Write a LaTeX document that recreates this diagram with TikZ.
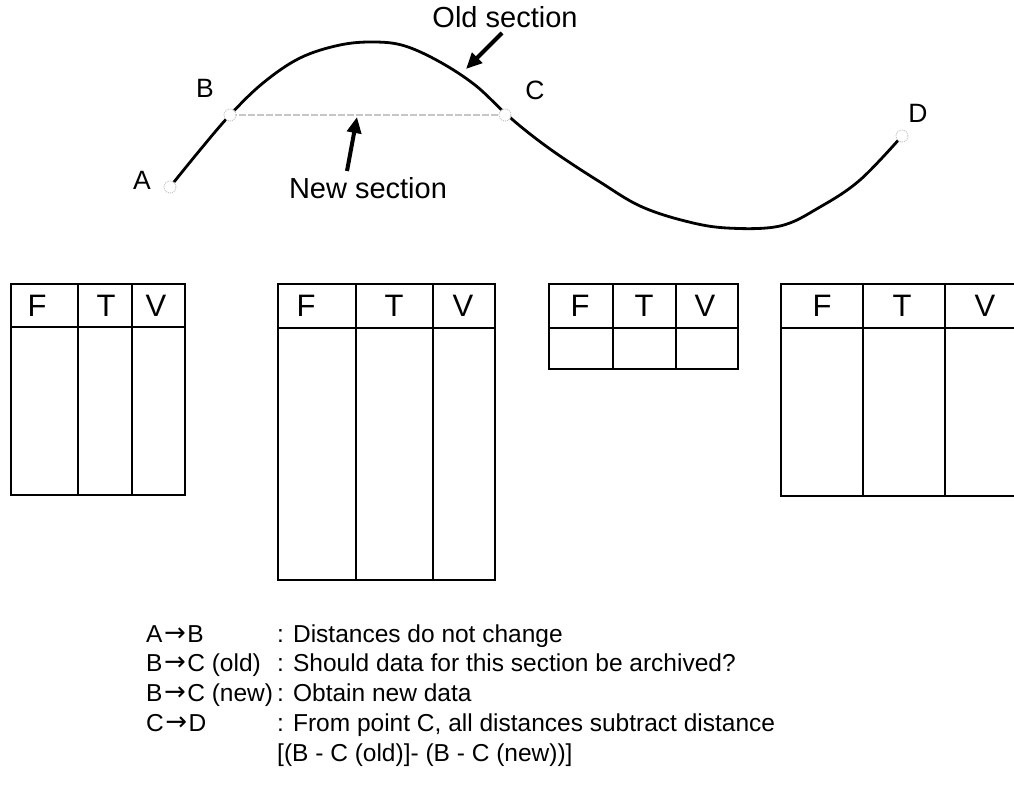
\documentclass[tikz,border=0pt]{standalone}
\usepackage{fontspec}
\setmainfont{Liberation Sans}
\newfontfamily\arrfont{DejaVu Sans}
\usetikzlibrary{arrows.meta}
\newcommand\legarrow{\hspace{1.5pt}{\arrfont\fontsize{26}{28}\selectfont\raisebox{0.5pt}{→}}\hspace{1.5pt}}
\begin{document}
\begin{tikzpicture}[x=1pt,y=-1pt,
  curve/.style={line width=2.8pt, line cap=round},
  pt/.style={circle, draw=gray!45, densely dotted, line width=1pt, fill=white, minimum size=12pt, inner sep=0pt},
  lbl/.style={font=\fontsize{26.5}{30}\selectfont, inner sep=0pt},
  sec/.style={font=\fontsize{29}{34}\selectfont, inner sep=0pt},
  hdr/.style={font=\fontsize{31}{36}\selectfont, inner sep=0pt},
  leg/.style={font=\fontsize{24.5}{30}\selectfont, inner sep=0pt, anchor=base west},
  tab/.style={line width=2.6pt},
  callout/.style={line width=4pt, -{Triangle[length=16pt,width=14pt]}},
  newsec/.style={gray!45, line width=2.2pt, dash pattern=on 7pt off 2pt}
]
\useasboundingbox (0,0) rectangle (1014,803);
\clip (0,0) rectangle (1014,803);

% route curve
\draw[curve] plot[smooth, tension=0.6] coordinates {
 (170,187) (200,150) (230,115) (263,83) (300,58) (340,45) (375,42) (405,46)
 (440,62) (475,85) (505,113) (530,134) (560,156) (600,182) (640,206)
 (685,221) (727,228) (780,226) (820,207) (860,180) (902,136)};

% new section
\draw[newsec] (230,115) -- (505,115);

% points
\node[pt] (A) at (170,187) {};
\node[pt] (B) at (230,115) {};
\node[pt] (C) at (505,115) {};
\node[pt] (D) at (902,136) {};
\node[lbl] (la) at (142,180) {A};
\node[lbl] (lb) at (205,88) {B};
\node[lbl] (lc) at (535,90) {C};
\node[lbl] (ld) at (918,113) {D};

% callouts
\node[sec] (old) at (505,17) {Old section};
\coordinate (oldtip) at (466,69);
\draw[callout] (502,33) -- (oldtip);
\node[sec] (new) at (368,188) {New section};
\coordinate (newtip) at (357,117);
\draw[callout] (347,171) -- (newtip);

% tables
\draw[tab] (11,284) rectangle (185,495);
\draw[tab] (11,327) -- (185,327) (78,284) -- (78,495) (132,284) -- (132,495);
\node[hdr] at (37,306) {F};
\node[hdr] at (106,306) {T};
\node[hdr] at (156,306) {V};

\draw[tab] (278,284) rectangle (495,580);
\draw[tab] (278,328) -- (495,328) (356,284) -- (356,580) (433,284) -- (433,580);
\node[hdr] at (306,306) {F};
\node[hdr] at (394,306) {T};
\node[hdr] at (463,306) {V};

\draw[tab] (549,284) rectangle (738,369);
\draw[tab] (549,328) -- (738,328) (613,284) -- (613,369) (676,284) -- (676,369);
\node[hdr] at (580,306) {F};
\node[hdr] at (644,306) {T};
\node[hdr] at (705,306) {V};

\draw[tab] (781,284) rectangle (1027,496);
\draw[tab] (781,328) -- (1027,328) (863,284) -- (863,496) (945,284) -- (945,496);
\node[hdr] at (822,306) {F};
\node[hdr] at (902,306) {T};
\node[hdr] at (985,306) {V};

% legend
\node[leg] at (146,642) {A\legarrow B};
\node[leg] at (146,671) {B\legarrow C (old)};
\node[leg] at (146,701) {B\legarrow C (new)};
\node[leg] at (146,731) {C\legarrow D};
\node[leg] at (277,642) {: Distances do not change};
\node[leg] at (277,671) {: Should data for this section be archived?};
\node[leg] at (277,701) {: Obtain new data};
\node[leg] at (277,731) {: From point C, all distances subtract distance};
\node[leg] at (277,761) {[(B - C (old)]- (B - C (new))]};
\end{tikzpicture}
\end{document}
